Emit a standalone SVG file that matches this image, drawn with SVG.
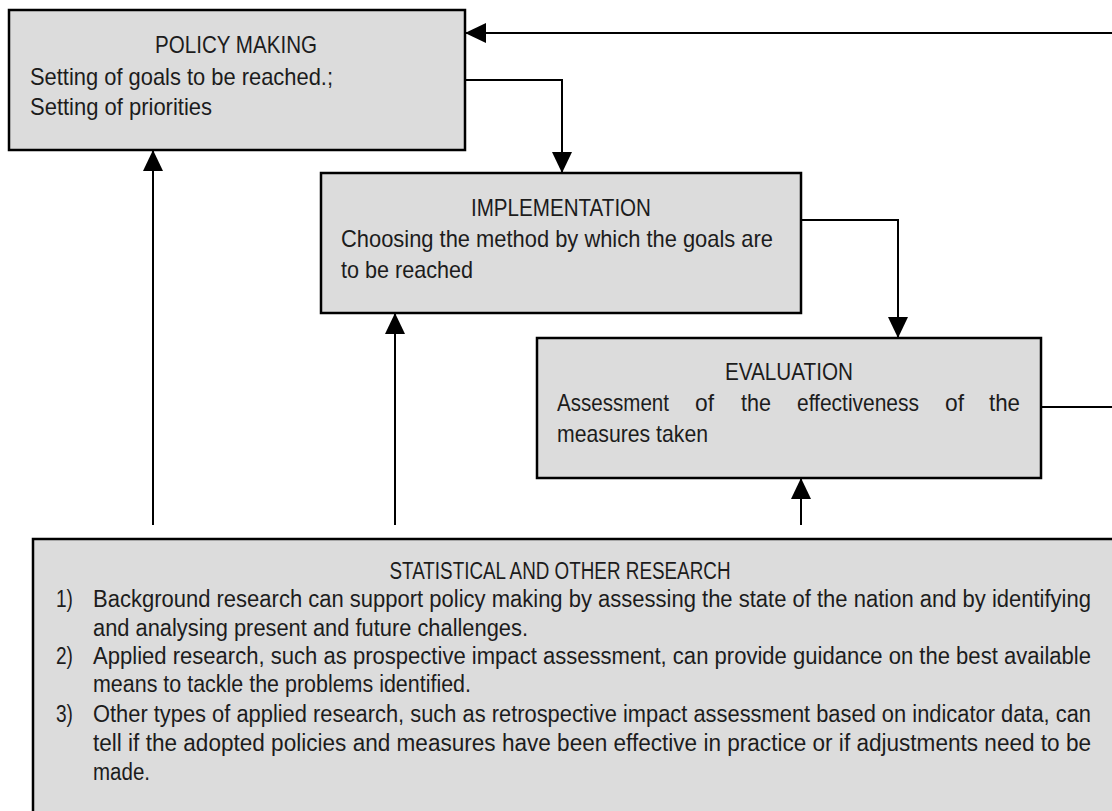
<svg xmlns="http://www.w3.org/2000/svg" width="1112" height="811" viewBox="0 0 1112 811">
  <defs>
    <marker id="arrow" viewBox="0 0 21 20" refX="21" refY="10" markerWidth="21" markerHeight="20" markerUnits="userSpaceOnUse" orient="auto">
      <path d="M0,0 L21,10 L0,20 Z" fill="#000"/>
    </marker>
    <style>
      .box { fill: #dcdcdc; stroke: #000; stroke-width: 2.5; }
      .conn { fill: none; stroke: #000; stroke-width: 2; }
      .t { font-family: "Liberation Sans", Arial, sans-serif; font-size: 24px; fill: #1c1c1c; }
      .r { font-family: "Liberation Sans", Arial, sans-serif; font-size: 21.8px; fill: #1c1c1c; }
      .c { text-anchor: middle; }
    </style>
  </defs>
  <rect width="1112" height="811" fill="#fff"/>

  <!-- flow connectors -->
  <g id="connectors">
    <!-- feedback from evaluation back to policy making -->
    <path class="conn" d="M1041,407 L1114,407"/>
    <path class="conn" d="M1114,33 L465,33" marker-end="url(#arrow)"/>
    <!-- policy making to implementation -->
    <path class="conn" d="M465,80 L562,80 L562,173" marker-end="url(#arrow)"/>
    <!-- implementation to evaluation -->
    <path class="conn" d="M801,220 L898,220 L898,338" marker-end="url(#arrow)"/>
    <!-- research inputs -->
    <path class="conn" d="M153,525 L153,150" marker-end="url(#arrow)"/>
    <path class="conn" d="M395,525 L395,313" marker-end="url(#arrow)"/>
    <path class="conn" d="M801,525 L801,478" marker-end="url(#arrow)"/>
  </g>

  <g id="policy-making">
    <rect class="box" x="9" y="10" width="456" height="140"/>
    <text class="t c" x="236" y="53" textLength="162" lengthAdjust="spacingAndGlyphs">POLICY MAKING</text>
    <text class="t" x="30" y="85" textLength="303" lengthAdjust="spacingAndGlyphs">Setting of goals to be reached.;</text>
    <text class="t" x="30" y="115" textLength="182" lengthAdjust="spacingAndGlyphs">Setting of priorities</text>
  </g>

  <g id="implementation">
    <rect class="box" x="321" y="173" width="480" height="140"/>
    <text class="t c" x="561" y="216" textLength="180" lengthAdjust="spacingAndGlyphs">IMPLEMENTATION</text>
    <text class="t" x="341" y="247" textLength="432" lengthAdjust="spacingAndGlyphs">Choosing the method by which the goals are</text>
    <text class="t" x="341" y="278" textLength="132" lengthAdjust="spacingAndGlyphs">to be reached</text>
  </g>

  <g id="evaluation">
    <rect class="box" x="537" y="338" width="504" height="140"/>
    <text class="t c" x="789" y="380" textLength="128" lengthAdjust="spacingAndGlyphs">EVALUATION</text>
    <text class="t" y="411">
      <tspan x="557" textLength="112" lengthAdjust="spacingAndGlyphs">Assessment</tspan>
      <tspan x="695" textLength="19" lengthAdjust="spacingAndGlyphs">of</tspan>
      <tspan x="741" textLength="30" lengthAdjust="spacingAndGlyphs">the</tspan>
      <tspan x="797" textLength="122" lengthAdjust="spacingAndGlyphs">effectiveness</tspan>
      <tspan x="945" textLength="19" lengthAdjust="spacingAndGlyphs">of</tspan>
      <tspan x="989" textLength="31" lengthAdjust="spacingAndGlyphs">the</tspan>
    </text>
    <text class="t" x="557" y="442" textLength="151" lengthAdjust="spacingAndGlyphs">measures taken</text>
  </g>

  <g id="research">
    <rect class="box" x="33" y="539" width="1100" height="300"/>
    <!-- text block: local y = (page y - 539) / 1.1, glyphs stretched to a 24px height -->
    <g transform="translate(0,539) scale(1,1.1)">
      <text class="r c" x="560" y="36.36" textLength="341" lengthAdjust="spacingAndGlyphs">STATISTICAL AND OTHER RESEARCH</text>
      <text class="r" x="56" y="61.82" textLength="17" lengthAdjust="spacingAndGlyphs">1)</text>
      <text class="r" x="93" y="61.82" textLength="998" lengthAdjust="spacingAndGlyphs">Background research can support policy making by assessing the state of the nation and by identifying</text>
      <text class="r" x="93" y="88.18" textLength="435" lengthAdjust="spacingAndGlyphs">and analysing present and future challenges.</text>
      <text class="r" x="56" y="113.64" textLength="17" lengthAdjust="spacingAndGlyphs">2)</text>
      <text class="r" x="93" y="113.64" textLength="998" lengthAdjust="spacingAndGlyphs">Applied research, such as prospective impact assessment, can provide guidance on the best available</text>
      <text class="r" x="93" y="139.09" textLength="378" lengthAdjust="spacingAndGlyphs">means to tackle the problems identified.</text>
      <text class="r" x="56" y="166.36" textLength="17" lengthAdjust="spacingAndGlyphs">3)</text>
      <text class="r" x="93" y="166.36" textLength="998" lengthAdjust="spacingAndGlyphs">Other types of applied research, such as retrospective impact assessment based on indicator data, can</text>
      <text class="r" x="93" y="192.73" textLength="998" lengthAdjust="spacingAndGlyphs">tell if the adopted policies and measures have been effective in practice or if adjustments need to be</text>
      <text class="r" x="93" y="219.09" textLength="57" lengthAdjust="spacingAndGlyphs">made.</text>
    </g>
  </g>
</svg>
